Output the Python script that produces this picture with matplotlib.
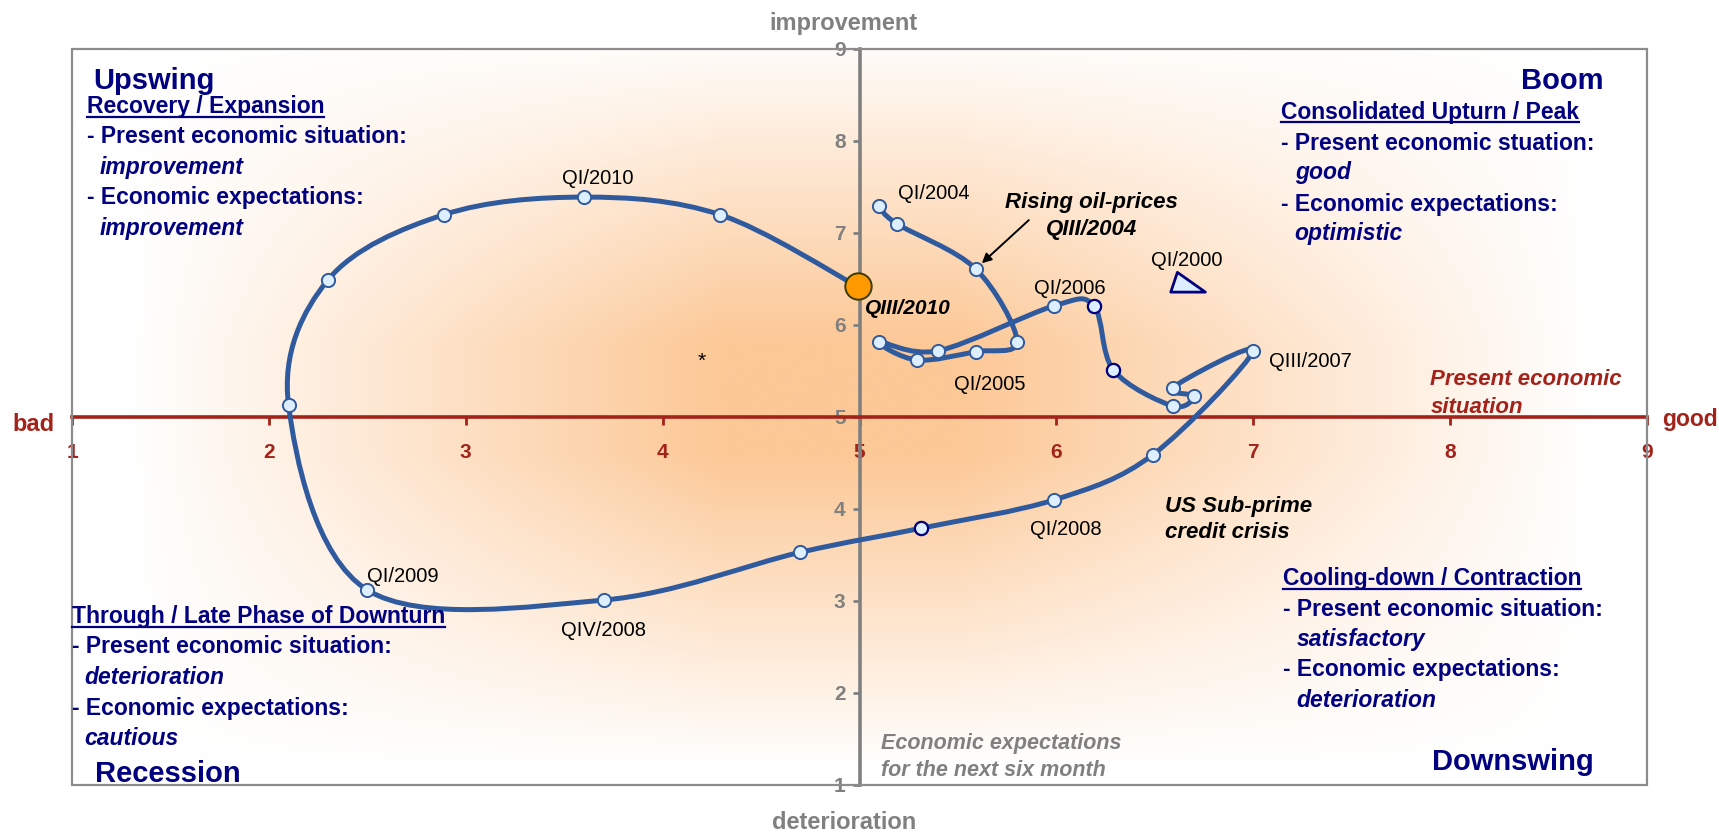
import numpy as np
import matplotlib
matplotlib.use('Agg')
import matplotlib.pyplot as plt
from matplotlib.path import Path
from matplotlib.patches import PathPatch, Rectangle
from matplotlib.lines import Line2D

plt.rcParams['font.family'] = ['Liberation Sans', 'DejaVu Sans']

# ---------------- data ----------------
quarters = ['QI/2004', 'QII/2004', 'QIII/2004', 'QIV/2004',
            'QI/2005', 'QII/2005', 'QIII/2005', 'QIV/2005',
            'QI/2006', 'QII/2006', 'QIII/2006', 'QIV/2006',
            'QI/2007', 'QII/2007', 'QIII/2007', 'QIV/2007',
            'QI/2008', 'QII/2008', 'QIII/2008', 'QIV/2008',
            'QI/2009', 'QII/2009', 'QIII/2009', 'QIV/2009',
            'QI/2010', 'QII/2010', 'QIII/2010']
present = [5.10, 5.19, 5.59, 5.80, 5.59, 5.29, 5.10, 5.40, 5.99, 6.19, 6.29, 6.59, 6.70, 6.59,
           7.00, 6.49, 5.99, 5.31, 4.70, 3.70, 2.50, 2.10, 2.30, 2.89, 3.60, 4.29, 4.99]
expect = [7.29, 7.10, 6.61, 5.82, 5.71, 5.62, 5.82, 5.72, 6.21, 6.21, 5.51, 5.12, 5.23, 5.32,
          5.72, 4.59, 4.10, 3.79, 3.53, 3.01, 3.12, 5.13, 6.49, 7.20, 7.39, 7.20, 6.42]
start_label = 'QI/2000'
start_present = 6.65
start_expect = 6.44
x_ticks = [1, 2, 3, 4, 5, 6, 7, 8, 9]
y_ticks = [1, 2, 3, 4, 5, 6, 7, 8, 9]

# ---------------- styles ----------------
NAVY = '#000080'
RED = '#A3231A'
GRAY = '#808080'
CURVE = '#2F5A9E'
MFACE = '#DDEEFF'
VA = 'center_baseline'

fig = plt.figure(figsize=(17.19, 8.33), dpi=100)
ax = fig.add_axes([72 / 1719, 1 - 785 / 833, (1647 - 72) / 1719, (785 - 49) / 833])

# background gradient
gx = np.linspace(1, 9, 500)
gy = np.linspace(1, 9, 500)
X, Y = np.meshgrid(gx, gy)
cx, cy = 4.9, 5.2
dxl = np.where(X < cx, (cx - X - 0.6) / 3.0, (X - cx - 0.6) / 3.2)
tx = np.clip(1 - dxl, 0, 1)
dyl = np.where(Y < cy, (cy - Y - 0.6) / 3.4, (Y - cy - 0.6) / 3.4)
ty = np.clip(1 - dyl, 0, 1)
t = (tx * ty)[..., None]
orange = np.array([252, 200, 150]) / 255.0
white = np.array([1.0, 1.0, 1.0])
img = white * (1 - t) + orange * t
ax.imshow(img, extent=(1, 9, 1, 9), origin='lower', aspect='auto', zorder=0, interpolation='bilinear')

ax.set_xlim(1, 9)
ax.set_ylim(1, 9)

# axes through the center
for s in ['top', 'right']:
    ax.spines[s].set_visible(False)
ax.spines['bottom'].set_position(('data', 5))
ax.spines['left'].set_position(('data', 5))
ax.spines['bottom'].set_color(RED)
ax.spines['left'].set_color(GRAY)
ax.spines['bottom'].set_linewidth(2.6)
ax.spines['left'].set_linewidth(2.6)
ax.spines['bottom'].set_zorder(2)
ax.spines['left'].set_zorder(2)
ax.set_xticks(x_ticks)
ax.set_yticks(y_ticks)
ax.set_xticklabels([str(v) for v in x_ticks])
ax.set_yticklabels([str(v) for v in y_ticks])
ax.tick_params(axis='x', direction='out', length=5.4, width=2, color=RED, labelcolor=RED,
               labelsize=15, pad=13)
ax.tick_params(axis='y', direction='out', length=5, width=2, color=GRAY, labelcolor=GRAY,
               labelsize=15, pad=5)
for lbl in ax.get_xticklabels() + ax.get_yticklabels():
    lbl.set_fontweight('bold')

# frame
ax.add_patch(Rectangle((0, 0), 1, 1, transform=ax.transAxes, fill=False,
                       edgecolor='#8c8c8c', lw=1.6, clip_on=False, zorder=6))

# smooth curve (Bezier through the data points)
P = np.column_stack([present, expect])
n = len(P)
verts = [P[0]]
codes = [Path.MOVETO]
for i in range(n - 1):
    p0 = P[i - 1] if i > 0 else P[i]
    p1 = P[i]
    p2 = P[i + 1]
    p3 = P[i + 2] if i + 2 < n else P[i + 1]
    verts += [p1 + (p2 - p0) / 6.0, p2 - (p3 - p1) / 6.0, p2]
    codes += [Path.CURVE4] * 3
ax.add_patch(PathPatch(Path(verts, codes), facecolor='none', edgecolor=CURVE, lw=3.6,
                       capstyle='round', joinstyle='round', zorder=3))

# markers
ax.plot(present[:-1], expect[:-1], 'o', ms=9.5, mfc=MFACE, mec=CURVE, mew=1.4, zorder=4)
dark_edge = [9, 10, 17]
ax.plot([present[i] for i in dark_edge], [expect[i] for i in dark_edge], 'o', ms=9.5,
        mfc=MFACE, mec=NAVY, mew=1.6, zorder=5)
ax.plot(present[-1:], expect[-1:], 'o', ms=19, mfc='#FF9900', mec='#3a3a00', mew=1.4, zorder=5)

tri = Path([(-7.2, 13.3), (-13.9, -6.7), (21.1, -6.7), (-7.2, 13.3)],
           [Path.MOVETO, Path.LINETO, Path.LINETO, Path.CLOSEPOLY])
ax.plot([start_present], [start_expect], marker=tri, ms=30, mfc=MFACE, mec=NAVY, mew=2,
        ls='none', zorder=5)

# point labels
label_offsets = {
    'QI/2004': (39, 11, 'center'),
    'QI/2005': (10, -22, 'center'),
    'QI/2006': (11, 14, 'center'),
    'QIII/2007': (11, -6.5, 'left'),
    'QI/2008': (8.5, -20, 'center'),
    'QIV/2008': (0, -20.5, 'center'),
    'QI/2009': (25.5, 11, 'center'),
    'QI/2010': (10, 14.5, 'center'),
}
for q, (ox, oy, ha) in label_offsets.items():
    i = quarters.index(q)
    ax.annotate(q, (present[i], expect[i]), xytext=(ox, oy), textcoords='offset points',
                ha=ha, va=VA, fontsize=14.5, color='black', zorder=7)
i_last = len(quarters) - 1
ax.annotate(quarters[i_last], (present[i_last], expect[i_last]), xytext=(5.7, -14.5),
            textcoords='offset points', ha='left', va=VA, fontsize=15,
            fontweight='bold', fontstyle='italic', color='black', zorder=7)
ax.annotate(start_label, (start_present, start_expect), xytext=(1.4, 18.5),
            textcoords='offset points', ha='center', va=VA, fontsize=14.5, zorder=7)

# annotations
i3 = quarters.index('QIII/2004')
ax.annotate('', xy=(present[i3], expect[i3]), xytext=(5.86, 7.14),
            arrowprops=dict(arrowstyle='-|>', color='black', lw=1.4, mutation_scale=14,
                            shrinkA=0, shrinkB=6), zorder=7)
ax.text(6.18, 7.36, 'Rising oil-prices', ha='center', va=VA, fontsize=16,
        fontweight='bold', fontstyle='italic', zorder=7)
ax.text(6.18, 7.07, 'QIII/2004', ha='center', va=VA, fontsize=16,
        fontweight='bold', fontstyle='italic', zorder=7)
ax.text(6.55, 4.05, 'US Sub-prime', ha='left', va=VA, fontsize=16,
        fontweight='bold', fontstyle='italic', zorder=7)
ax.text(6.55, 3.77, 'credit crisis', ha='left', va=VA, fontsize=16,
        fontweight='bold', fontstyle='italic', zorder=7)
ax.text(4.20, 5.60, '*', ha='center', va='center', fontsize=15, zorder=7)

ax.text(7.90, 5.44, 'Present economic', ha='left', va=VA, fontsize=16,
        fontweight='bold', fontstyle='italic', color=RED, zorder=7)
ax.text(7.90, 5.13, 'situation', ha='left', va=VA, fontsize=16,
        fontweight='bold', fontstyle='italic', color=RED, zorder=7)
ax.text(0.91, 4.95, 'bad', ha='right', va=VA, fontsize=17, fontweight='bold',
        color=RED, clip_on=False)
ax.text(9.075, 5.0, 'good', ha='left', va=VA, fontsize=16.5, fontweight='bold',
        color=RED, clip_on=False)
ax.text(4.92, 9.30, 'improvement', ha='center', va=VA, fontsize=17, fontweight='bold',
        color=GRAY, clip_on=False)
ax.text(4.92, 0.62, 'deterioration', ha='center', va=VA, fontsize=17, fontweight='bold',
        color=GRAY, clip_on=False)
ax.text(5.11, 1.48, 'Economic expectations', ha='left', va=VA, fontsize=15.5,
        fontweight='bold', fontstyle='italic', color=GRAY, zorder=7)
ax.text(5.11, 1.19, 'for the next six month', ha='left', va=VA, fontsize=15.5,
        fontweight='bold', fontstyle='italic', color=GRAY, zorder=7)

# quadrant descriptions
underlined = []


def block(x, xi, ys, heading, sit_label, sit_val, exp_val):
    h = ax.text(x, ys[0], heading, ha='left', va=VA, fontsize=16.5, fontweight='bold',
                color=NAVY, zorder=7)
    underlined.append(h)
    ax.text(x, ys[1], sit_label, ha='left', va=VA, fontsize=16.5, fontweight='bold',
            color=NAVY, zorder=7)
    ax.text(xi, ys[2], sit_val, ha='left', va=VA, fontsize=16.5, fontweight='bold',
            fontstyle='italic', color=NAVY, zorder=7)
    ax.text(x, ys[3], '- Economic expectations:', ha='left', va=VA, fontsize=16.5,
            fontweight='bold', color=NAVY, zorder=7)
    ax.text(xi, ys[4], exp_val, ha='left', va=VA, fontsize=16.5, fontweight='bold',
            fontstyle='italic', color=NAVY, zorder=7)


block(1.076, 1.14, [8.40, 8.08, 7.74, 7.41, 7.08], 'Recovery / Expansion',
      '- Present economic situation:', 'improvement', 'improvement')
block(7.14, 7.21, [8.34, 8.00, 7.68, 7.34, 7.02], 'Consolidated Upturn / Peak',
      '- Present economic stuation:', 'good', 'optimistic')
block(1.0, 1.064, [2.855, 2.53, 2.20, 1.86, 1.53], 'Through / Late Phase of Downturn',
      '- Present economic situation:', 'deterioration', 'cautious')
block(7.15, 7.22, [3.27, 2.94, 2.61, 2.28, 1.95], 'Cooling-down / Contraction',
      '- Present economic situation:', 'satisfactory', 'deterioration')

ax.text(1.11, 8.68, 'Upswing', ha='left', va=VA, fontsize=21, fontweight='bold',
        color=NAVY, zorder=7)
ax.text(8.78, 8.68, 'Boom', ha='right', va=VA, fontsize=21, fontweight='bold',
        color=NAVY, zorder=7)
ax.text(1.115, 1.15, 'Recession', ha='left', va=VA, fontsize=21, fontweight='bold',
        color=NAVY, zorder=7)
ax.text(8.73, 1.28, 'Downswing', ha='right', va=VA, fontsize=21, fontweight='bold',
        color=NAVY, zorder=7)

# underline headings
fig.canvas.draw()
r = fig.canvas.get_renderer()
for h in underlined:
    bb = h.get_window_extent(renderer=r)
    yy = (bb.y0 + 1.5) / fig.bbox.height
    fig.add_artist(Line2D([bb.x0 / fig.bbox.width, bb.x1 / fig.bbox.width], [yy, yy],
                          color=NAVY, lw=1.6, zorder=8))

fig.savefig('out.png', dpi=100)
